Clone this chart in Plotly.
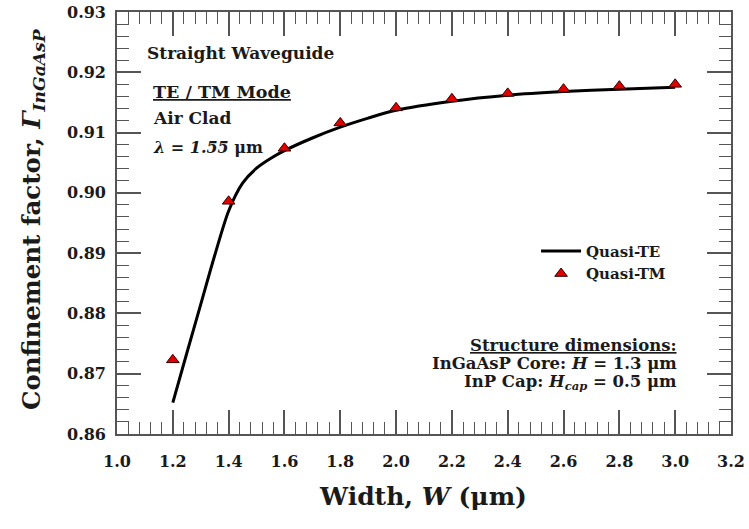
import plotly.graph_objects as go

# --- data ---
te_width = [1.2, 1.25, 1.3, 1.35, 1.4, 1.45, 1.5, 1.55, 1.6, 1.7, 1.8, 1.9, 2.0, 2.2, 2.4, 2.6, 2.8, 3.0]
te_gamma = [0.8652, 0.8734, 0.8815, 0.8896, 0.8970, 0.9016, 0.9041, 0.9057, 0.9070, 0.9091, 0.9109, 0.9124,
            0.9137, 0.9152, 0.9162, 0.9168, 0.9172, 0.9175]
tm_width = [1.2, 1.4, 1.6, 1.8, 2.0, 2.2, 2.4, 2.6, 2.8, 3.0]
tm_gamma = [0.8723, 0.8986, 0.9074, 0.9116, 0.9141, 0.9156, 0.9165, 0.9172, 0.9177, 0.9180]
x_range = [1.0, 3.2]
y_range = [0.86, 0.93]

FONT = "DejaVu Serif"
AX = "#555555"

fig = go.Figure()
fig.add_trace(go.Scatter(x=te_width, y=te_gamma, mode="lines", name="Quasi-TE",
                         line=dict(color="black", width=3, shape="spline", smoothing=0.8)))
fig.add_trace(go.Scatter(x=tm_width, y=tm_gamma, mode="markers", name="Quasi-TM",
                         marker=dict(symbol="triangle-up", size=11, color="#e00000",
                                     line=dict(color="#300000", width=1))))
# empty traces carrying the overlay axes (minor ticks, tick labels)
for xa, ya in (("x2", "y2"), ("x3", "y3")):
    fig.add_trace(go.Scatter(x=[None], y=[None], xaxis=xa, yaxis=ya, showlegend=False,
                             hoverinfo="skip", mode="lines"))

major_axis = dict(showline=True, mirror="ticks", linecolor=AX, linewidth=1.6, ticks="inside",
                  ticklen=24, tickwidth=1.6, tickcolor=AX, showgrid=False, zeroline=False,
                  showticklabels=False, automargin=False)
minor_axis = dict(showline=False, mirror="ticks", ticks="inside", ticklen=12, tickwidth=1.3,
                  tickcolor=AX, showgrid=False, zeroline=False, showticklabels=False, automargin=False)
label_axis = dict(showline=False, ticks="", showgrid=False, zeroline=False, automargin=False,
                  tickfont=dict(family=FONT, size=16, color="#1a1a1a", weight="bold"))

def ann(text, x, y, size, xanchor="left", **kw):
    fig.add_annotation(text=text, x=x, y=y, xref="paper", yref="paper", showarrow=False,
                       xanchor=xanchor, yanchor="middle",
                       font=dict(family=FONT, size=size, color="#1a1a1a", weight="bold"), **kw)

ann("Straight Waveguide", 0.0456, 0.903, 17)
ann("<u>TE / TM Mode</u>", 0.0554, 0.810, 17.5)
ann("Air Clad", 0.0554, 0.749, 17)
ann("<i>λ</i> = <i>1.55</i> μm", 0.0554, 0.680, 16)
ann("<u>Structure dimensions:</u>", 0.915, 0.210, 16.5, xanchor="right")
ann("InGaAsP Core: <i>H</i> = 1.3 μm", 0.915, 0.167, 16.5, xanchor="right")
ann("InP Cap: <i>H</i><sub><i>cap</i></sub> = 0.5 μm", 0.915, 0.122, 16.5, xanchor="right")
ann("Width, <i>W</i> (μm)", 0.498, -0.148, 25, xanchor="center")
ann("Confinement factor, <i>Γ</i><sub><i>InGaAsP</i></sub>", -0.137, 0.509, 24.5, xanchor="center",
    textangle=-90)

fig.update_layout(
    width=749, height=529,
    margin=dict(l=117, r=18, t=12, b=95),
    plot_bgcolor="white", paper_bgcolor="white",
    showlegend=True,
    xaxis=dict(range=x_range, tickmode="linear", tick0=1.0, dtick=0.2, **major_axis),
    yaxis=dict(range=y_range, tickmode="linear", tick0=0.86, dtick=0.01, **major_axis),
    xaxis2=dict(range=x_range, overlaying="x", anchor="y2", side="bottom",
                tickmode="linear", tick0=1.0, dtick=0.04, **minor_axis),
    yaxis2=dict(range=y_range, overlaying="y", anchor="x2", side="left",
                tickmode="linear", tick0=0.86, dtick=0.002, **minor_axis),
    xaxis3=dict(range=x_range, overlaying="x", anchor="y3", side="bottom",
                tickmode="linear", tick0=1.0, dtick=0.2, tickformat=".1f",
                ticklabelstandoff=16, **label_axis),
    yaxis3=dict(range=y_range, overlaying="y", anchor="x3", side="left",
                tickmode="linear", tick0=0.86, dtick=0.01, tickformat=".2f",
                ticklabelstandoff=10, **label_axis),
    legend=dict(x=0.6825, y=0.472, xanchor="left", yanchor="top", bgcolor="rgba(0,0,0,0)",
                font=dict(family=FONT, size=15, color="#1a1a1a", weight="bold"),
                itemwidth=40, tracegroupgap=4),
)

fig.write_html("out.html")
